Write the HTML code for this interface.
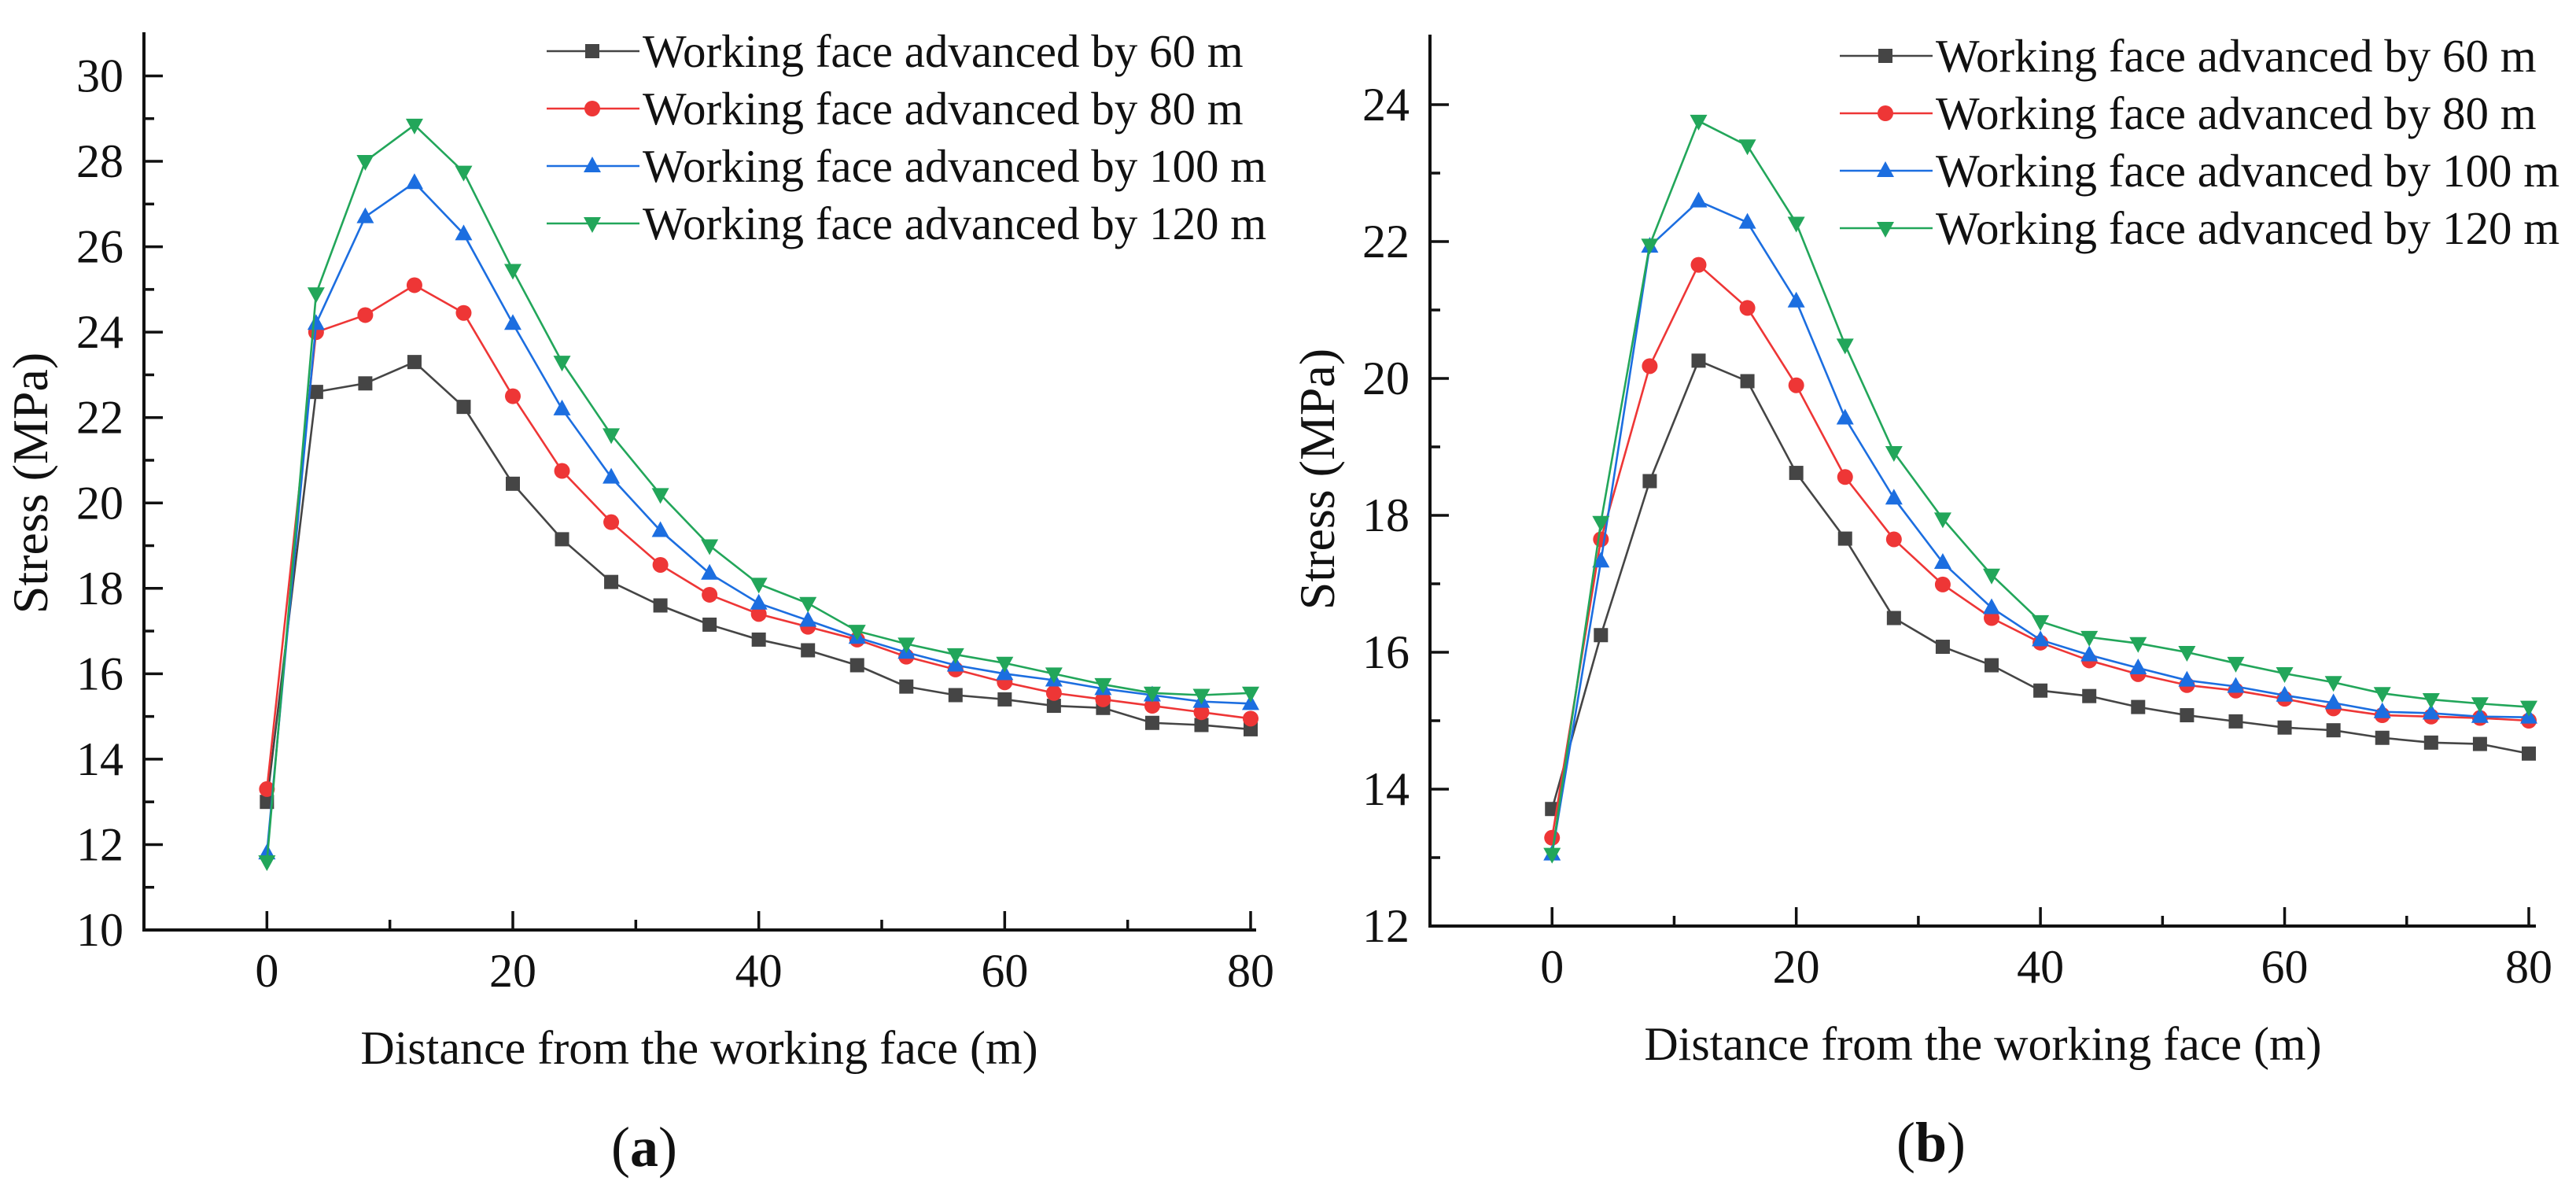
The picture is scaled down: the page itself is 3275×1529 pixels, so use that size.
<!DOCTYPE html>
<html><head><meta charset="utf-8"><style>
html,body{margin:0;padding:0;background:#fff}
svg{display:block}
text{font-family:"Liberation Serif","Times New Roman",serif;fill:#111}
</style></head><body>
<svg id="fig" width="3275" height="1529" viewBox="0 0 3275 1529"></svg>
<script>
const xs = [0,4,8,12,16,20,24,28,32,36,40,44,48,52,56,60,64,68,72,76,80];
const seriesNames = ["Working face advanced by 60 m","Working face advanced by 80 m","Working face advanced by 100 m","Working face advanced by 120 m"];
const a60 = [13.0,22.6,22.8,23.3,22.25,20.45,19.15,18.15,17.6,17.15,16.8,16.55,16.2,15.7,15.5,15.4,15.25,15.2,14.85,14.8,14.7];
const a80 = [13.3,24.0,24.4,25.1,24.45,22.5,20.75,19.55,18.55,17.85,17.4,17.1,16.8,16.4,16.1,15.8,15.55,15.4,15.25,15.1,14.95];
const a100 = [11.8,24.2,26.7,27.5,26.3,24.2,22.2,20.6,19.35,18.35,17.65,17.25,16.85,16.5,16.2,16.0,15.85,15.65,15.5,15.35,15.3];
const a120 = [11.6,24.9,28.0,28.85,27.75,25.45,23.3,21.6,20.2,19.0,18.1,17.65,17.0,16.7,16.45,16.25,16.0,15.75,15.55,15.5,15.55];
const b60 = [13.71,16.25,18.5,20.26,19.96,18.62,17.66,16.5,16.08,15.81,15.44,15.36,15.2,15.08,14.99,14.9,14.86,14.75,14.68,14.66,14.52];
const b80 = [13.29,17.65,20.18,21.66,21.03,19.9,18.56,17.65,16.99,16.5,16.14,15.88,15.68,15.52,15.44,15.32,15.18,15.08,15.06,15.04,15.0];
const b100 = [13.05,17.33,21.93,22.59,22.28,21.13,19.42,18.25,17.31,16.65,16.18,15.96,15.77,15.59,15.5,15.37,15.26,15.13,15.11,15.06,15.05];
const b120 = [13.05,17.9,21.95,23.76,23.4,22.27,20.49,18.92,17.95,17.13,16.45,16.22,16.13,16.0,15.84,15.69,15.56,15.4,15.31,15.25,15.2];
const xTicks = [0,20,40,60,80];
const aYTicks = [10,12,14,16,18,20,22,24,26,28,30];
const bYTicks = [12,14,16,18,20,22,24];

const colors = ["#454545","#ee3636","#1c6ee0","#22a65a"];
const shapes = ["square","circle","up","down"];
const NS = "http://www.w3.org/2000/svg";
const svg = document.getElementById('fig');
function mk(tag, attrs, parent){const e=document.createElementNS(NS,tag);for(const k in attrs)e.setAttribute(k,attrs[k]);(parent||svg).appendChild(e);return e;}
function marker(g, shape, x, y, c){
  let e;
  if(shape==="square") e=mk('rect',{x:x-9,y:y-9,width:18,height:18,fill:c},g);
  else if(shape==="circle") e=mk('circle',{cx:x,cy:y,r:10,fill:c},g);
  else if(shape==="up") e=mk('polygon',{points:`${x},${y-12} ${x-11},${y+8} ${x+11},${y+8}`,fill:c},g);
  else e=mk('polygon',{points:`${x},${y+12} ${x-11},${y-8} ${x+11},${y-8}`,fill:c},g);
  
  
}
function chart(cfg){
  const g = mk('g',{});
  
  
  const X = v => cfg.x0 + (v - (-10)) * (cfg.x80 - cfg.x0) / 90;
  const Y = v => cfg.yb - (v - cfg.ymin) * (cfg.yb - cfg.yt) / (cfg.ymax - cfg.ymin);
  const ax = mk('line',{x1:cfg.x0,y1:cfg.yb,x2:cfg.xend,y2:cfg.yb,stroke:'#111','stroke-width':4},g);
   
  const ay = mk('line',{x1:cfg.x0,y1:cfg.yb+2,x2:cfg.x0,y2:cfg.ytop,stroke:'#111','stroke-width':4},g);
   
  for(let v=-10; v<=80; v+=10){
    const major = v%20===0;
    mk('line',{x1:X(v),y1:cfg.yb,x2:X(v),y2:cfg.yb-(major?24:13),stroke:'#111','stroke-width':3.5},g);
  }
  xTicks.forEach(v=>{
    const t=mk('text',{x:X(v),y:cfg.yb+72,'text-anchor':'middle','font-size':60},g);t.textContent=v;
     
  });
  for(let v=cfg.ymin; v<=cfg.ymax+0.001; v+=1){
    const major = (v%2===0);
    if(Y(v) < cfg.ytop-1) continue;
    mk('line',{x1:cfg.x0,y1:Y(v),x2:cfg.x0+(major?24:13),y2:Y(v),stroke:'#111','stroke-width':3.5},g);
  }
  cfg.yTicks.forEach(v=>{
    const t=mk('text',{x:cfg.x0-26,y:Y(v)+20,'text-anchor':'end','font-size':60},g);t.textContent=v;
     
  });
  const yt=mk('text',{x:0,y:0,'text-anchor':'middle','font-size':64,transform:`translate(${cfg.ytx},${cfg.yty}) rotate(-90)`},g);
  yt.textContent='Stress (MPa)';
   
  const xt=mk('text',{x:cfg.xtx,y:cfg.xty,'text-anchor':'middle','font-size':60},g);
  xt.textContent='Distance from the working face (m)';
   
  const pl=mk('text',{x:cfg.plx,y:cfg.ply,'text-anchor':'middle','font-size':72},g);
  pl.innerHTML='(<tspan font-weight="bold">'+cfg.letter+'</tspan>)';
   
  cfg.series.forEach((arr,i)=>{
    const sg = mk('g',{},g);
    
    
    const pts = arr.map((v,j)=>X(xs[j])+','+Y(v)).join(' ');
    mk('polyline',{points:pts,fill:'none',stroke:colors[i],'stroke-width':2.6},sg);
    arr.forEach((v,j)=>marker(sg,shapes[i],X(xs[j]),Y(v),colors[i]));
  });
  seriesNames.forEach((n,i)=>{
    const lg = mk('g',{},g);
    
    
    const y = cfg.ly + i*73;
    mk('line',{x1:cfg.lx,y1:y,x2:cfg.lx+118,y2:y,stroke:colors[i],'stroke-width':2.6},lg);
    marker(lg,shapes[i],cfg.lx+58,y,colors[i]);
    const t=mk('text',{x:cfg.lx+122,y:y+20,'font-size':59},lg);t.textContent=n;
  });
}
chart({name:'chart-a',x0:183,x80:1590,xend:1597,yb:1182,yt:96.5,ytop:41,ymin:10,ymax:30,yTicks:aYTicks,
  ytx:60,yty:614,xtx:889,xty:1352,plx:819,ply:1482,letter:'a',series:[a60,a80,a100,a120],lx:695,ly:65});
chart({name:'chart-b',x0:1818,x80:3215,xend:3224,yb:1177,yt:133,ytop:44,ymin:12,ymax:24,yTicks:bYTicks,
  ytx:1696,yty:609,xtx:2521,xty:1347,plx:2455,ply:1476,letter:'b',series:[b60,b80,b100,b120],lx:2339,ly:71});
</script>
</body></html>
